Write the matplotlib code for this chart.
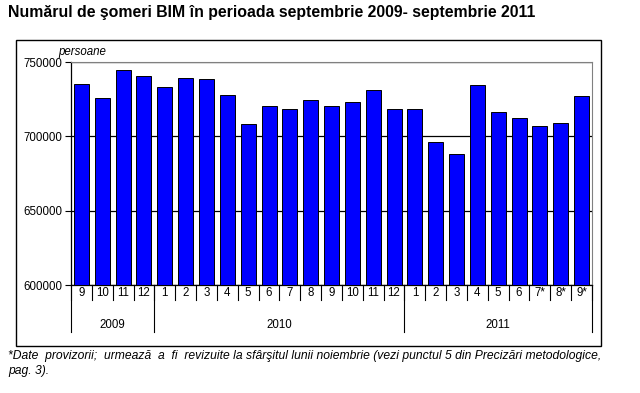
import matplotlib.pyplot as plt
from matplotlib.patches import Rectangle

plt.rcParams['font.family'] = ['Liberation Sans', 'DejaVu Sans']

# Numarul de someri BIM, sept 2009 - sept 2011
months = ['9', '10', '11', '12',
          '1', '2', '3', '4', '5', '6', '7', '8', '9', '10', '11', '12',
          '1', '2', '3', '4', '5', '6', '7*', '8*', '9*']
values = [735000, 726000, 745000, 741000,
          733000, 739500, 738700, 728000, 708400, 720600, 718500, 724600,
          720600, 723200, 731300, 718500,
          718500, 696300, 688200, 734700, 716500, 712500, 707100, 709100, 727300]
years = ['2009', '2010', '2011']
year_counts = [4, 12, 9]

fs = 8.3

fig = plt.figure(figsize=(6.4, 3.93), dpi=100)
ax = fig.add_axes([0.111, 0.2748, 0.814, 0.567])

x = list(range(len(values)))
ax.bar(x, values, width=0.72, color='#0000ff', edgecolor='black', linewidth=0.7, zorder=3)

ax.set_ylim(600000, 750000)
ax.set_xlim(-0.5, len(values) - 0.5)
ax.set_yticks([600000, 650000, 700000, 750000])
ax.set_yticklabels(['600000', '650000', '700000', '750000'], fontsize=fs)
ax.yaxis.grid(True, color='black', linewidth=0.9, zorder=1)
ax.tick_params(axis='y', direction='out', length=4, width=0.8, pad=2)
ax.set_xticks([])

ax.spines['top'].set_color('#808080')
ax.spines['right'].set_color('#808080')
ax.spines['left'].set_linewidth(0.9)
ax.spines['bottom'].set_linewidth(0.9)

# tabel de categorii sub axa
tr = ax.get_xaxis_transform()
for i in range(len(values) + 1):
    ax.plot([i - 0.5, i - 0.5], [0, -0.067], color='black', linewidth=0.8,
            transform=tr, clip_on=False)
for i, m in enumerate(months):
    ax.text(i, -0.036, m, transform=tr, ha='center', va='center', fontsize=fs)

start = 0
bounds = [0]
for name, n in zip(years, year_counts):
    ax.text(start + (n - 1) / 2, -0.18, name, transform=tr, ha='center', va='center',
            fontsize=fs)
    start += n
    bounds.append(start)
for b in bounds:
    ax.plot([b - 0.5, b - 0.5], [0, -0.211], color='black', linewidth=0.8,
            transform=tr, clip_on=False)

ax.text(-0.025, 1.02, 'persoane', transform=ax.transAxes, ha='left', va='bottom',
        fontsize=fs, style='italic')

# chenar exterior
fig.patches.append(Rectangle((16 / 640, 1 - 346 / 393), 585 / 640, 306 / 393,
                             transform=fig.transFigure, fill=False,
                             edgecolor='black', linewidth=1.0))

fig.text(8 / 640, 1 - 12 / 393,
         'Numărul de şomeri BIM în perioada septembrie 2009- septembrie 2011',
         ha='left', va='center', fontsize=11.4, fontweight='bold')
fig.text(8 / 640, 1 - 356 / 393,
         '*Date  provizorii;  urmează  a  fi  revizuite la sfârşitul lunii noiembrie '
         '(vezi punctul 5 din Precizări metodologice,',
         ha='left', va='center', fontsize=8.7, style='italic')
fig.text(8 / 640, 1 - 371 / 393, 'pag. 3).', ha='left', va='center',
         fontsize=8.7, style='italic')

fig.savefig('out.png', dpi=100)
